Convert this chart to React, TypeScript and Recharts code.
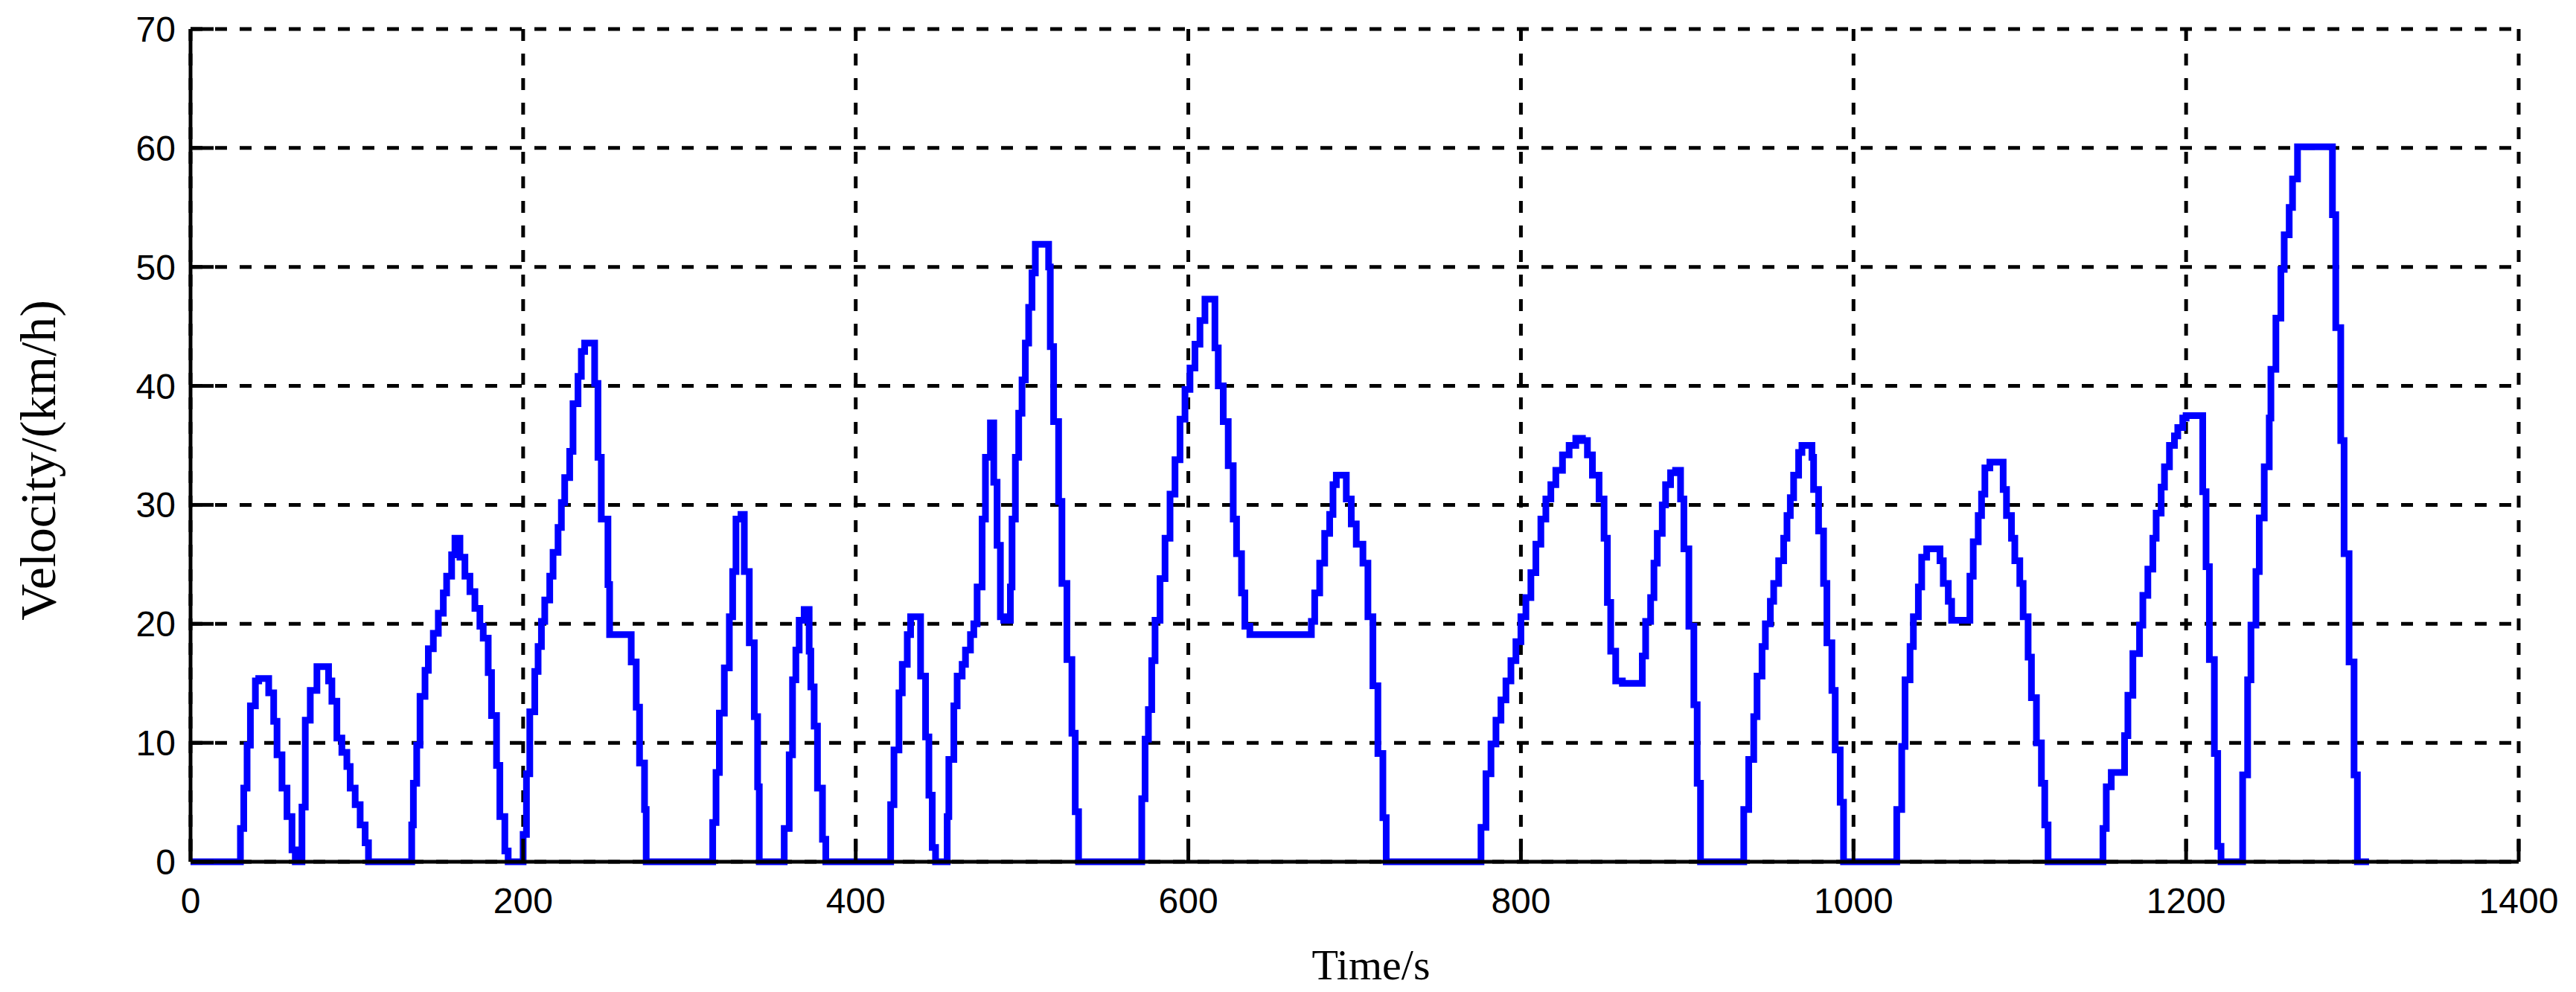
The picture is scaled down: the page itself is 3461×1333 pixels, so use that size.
import React from 'react';
import { LineChart, Line, XAxis, YAxis, CartesianGrid } from 'recharts';

// drive cycle (s, km/h)
const timeS = [
  0, 28, 30, 32, 34, 36, 39, 41, 46, 47, 50, 52, 55, 58, 61, 63,
  65, 67, 69, 72, 76, 82, 83, 85, 88, 91, 94, 96, 99, 102, 105, 107,
  132, 133, 134, 136, 138, 141, 143, 146, 149, 152, 154, 157, 159, 162, 165, 168, 171, 174, 176, 179, 181, 184, 186, 189, 191,
  199, 200, 202, 204, 207, 209, 211, 213, 216, 218, 221, 223, 225, 228, 230, 233, 235, 237, 241, 243, 245, 247, 251, 252, 263, 265, 268, 270, 273, 274,
  313, 314, 316, 318, 321, 324, 326, 328, 331, 333, 336, 339, 341, 342,
  356, 357, 360, 362, 364, 366, 369, 372, 373, 375, 377, 380, 382,
  420, 421, 423, 426, 428, 431, 433, 438, 439, 442, 444, 446, 448,
  454, 455, 456, 459, 461, 464, 466, 469, 471, 473, 476, 478, 481, 483, 485, 487, 489, 492, 493, 494, 496, 498, 500, 502, 504, 506, 508, 514, 516, 517, 519, 522, 524, 527, 530, 532, 534,
  571, 572, 574, 576, 578, 580, 583, 586, 589, 592, 595, 598, 601, 604, 607, 610, 614, 616, 618, 621, 624, 627, 629, 632, 634, 637, 673, 674, 676, 679, 682, 685, 687, 689, 694, 695, 698, 701, 705, 708, 711, 714, 717, 719,
  775, 776, 779, 782, 785, 788, 791, 794, 797, 800, 803, 806, 809, 812, 815, 818, 821, 825, 829, 833, 837, 840, 843, 847, 850, 852, 854, 857, 861, 871, 873, 875, 878, 880, 882, 885, 887, 890, 893, 896, 898, 901, 904, 906, 908,
  933, 934, 937, 940, 942, 945, 947, 950, 952, 955, 958, 960, 962, 964, 967, 969, 974, 975, 976, 979, 982, 984, 987, 989, 992, 994,
  1025, 1026, 1029, 1031, 1034, 1036, 1039, 1041, 1044, 1051, 1052, 1054, 1057, 1059, 1068, 1070, 1072, 1075, 1077, 1079, 1082, 1089, 1090, 1092, 1095, 1097, 1100, 1102, 1105, 1107, 1110, 1113, 1115, 1117,
  1149, 1150, 1152, 1155, 1162, 1163, 1165, 1168, 1172, 1174, 1177, 1180, 1182, 1185, 1187, 1190, 1193, 1195, 1198, 1200, 1209, 1210, 1212, 1214, 1217, 1219, 1221,
  1233, 1234, 1237, 1239, 1242, 1244, 1247, 1250, 1251, 1254, 1257, 1259, 1262, 1264, 1267, 1287, 1288, 1290, 1293, 1295, 1298, 1301, 1303, 1310,
];

const velocityKmh = [
  0, 0, 2.8, 6.2, 9.8, 13.1, 15.2, 15.4, 15.4, 14.2, 11.8, 9.0, 6.2, 3.8, 1.0, 0,
  0, 4.6, 11.9, 14.4, 16.4, 16.4, 15.2, 13.5, 10.4, 9.2, 8.0, 6.2, 4.8, 3.1, 1.6, 0,
  0, 3.1, 6.6, 9.8, 13.9, 16.1, 17.9, 19.2, 20.9, 22.6, 24.0, 25.8, 27.2, 25.6, 24.0, 22.7, 21.3, 19.8, 18.8, 15.9, 12.3, 8.1, 3.8, 0.9, 0,
  0, 2.3, 7.4, 12.6, 16.0, 18.1, 20.2, 22.0, 24.0, 26.0, 28.1, 30.2, 32.3, 34.5, 38.5, 40.8, 42.9, 43.6, 43.6, 40.2, 34.0, 28.8, 23.3, 19.1, 19.1, 16.8, 13.0, 8.3, 4.4, 0,
  0, 3.3, 7.5, 12.5, 16.3, 20.6, 24.4, 28.8, 29.2, 24.4, 18.4, 12.2, 6.3, 0,
  0, 2.8, 9.0, 15.3, 17.8, 20.3, 21.2, 17.7, 14.7, 11.4, 6.2, 1.9, 0,
  0, 4.8, 9.4, 14.2, 16.6, 19.1, 20.6, 20.6, 15.6, 10.5, 5.6, 1.2, 0,
  0, 3.8, 8.6, 13.1, 15.6, 16.6, 17.8, 19.1, 20.0, 23.1, 28.8, 34.0, 36.9, 31.9, 26.6, 20.6, 20.3, 20.3, 23.1, 28.8, 34.0, 37.7, 40.5, 43.6, 46.6, 49.5, 51.9, 51.9, 50.0, 43.3, 37.0, 30.3, 23.4, 17.0, 10.8, 4.2, 0,
  0, 5.3, 10.3, 12.8, 16.9, 20.3, 23.8, 27.2, 30.9, 33.8, 37.2, 39.7, 41.5, 43.5, 45.5, 47.3, 47.3, 43.2, 40.0, 37.0, 33.3, 28.8, 25.9, 22.6, 19.8, 19.1, 19.1, 20.2, 22.6, 25.1, 27.6, 29.2, 31.7, 32.5, 32.5, 30.5, 28.4, 26.7, 25.1, 20.6, 14.8, 9.1, 3.7, 0,
  0, 2.9, 7.4, 9.9, 11.9, 13.6, 15.2, 16.9, 18.5, 20.6, 22.2, 24.3, 26.7, 28.8, 30.5, 31.7, 32.9, 34.2, 35.0, 35.6, 35.4, 34.2, 32.5, 30.5, 27.2, 21.8, 17.7, 15.2, 15.0, 15.0, 17.3, 20.2, 22.2, 25.1, 27.6, 30.0, 31.7, 32.7, 32.9, 30.5, 26.3, 19.8, 13.2, 6.6, 0,
  0, 4.4, 8.6, 12.2, 15.6, 18.1, 20.0, 21.9, 23.4, 25.3, 27.2, 29.1, 30.6, 32.5, 34.4, 35.0, 35.0, 34.0, 31.3, 27.8, 23.4, 18.4, 14.4, 9.4, 5.0, 0,
  0, 4.4, 9.7, 15.3, 18.1, 20.6, 23.1, 25.6, 26.3, 26.3, 25.3, 23.4, 21.9, 20.3, 20.3, 24.0, 26.9, 29.1, 30.9, 33.1, 33.6, 33.6, 31.3, 29.1, 27.2, 25.3, 23.4, 20.6, 17.2, 13.8, 10.0, 6.6, 3.1, 0,
  0, 2.8, 6.3, 7.5, 7.5, 10.6, 14.0, 17.5, 19.9, 22.4, 24.6, 27.2, 29.3, 31.5, 33.2, 35.0, 35.8, 36.5, 37.3, 37.5, 37.5, 31.1, 24.8, 17.0, 9.1, 1.3, 0,
  0, 7.3, 15.3, 19.9, 24.4, 28.9, 33.2, 37.3, 41.4, 45.7, 49.8, 52.7, 55.0, 57.4, 60.1, 60.1, 54.4, 44.9, 35.4, 25.9, 16.8, 7.3, 0, 0,
];

const xTicks = [0, 200, 400, 600, 800, 1000, 1200, 1400];
const yTicks = [0, 10, 20, 30, 40, 50, 60, 70];

const chartData = timeS.map((t, i) => ({ t, v: velocityKmh[i] }));

const W = 3461;
const H = 1333;

const tickFont = { fontFamily: 'Liberation Sans, Arial, sans-serif', fontSize: 48, fill: '#000' };
const titleFont = 'Liberation Serif, Times New Roman, serif';

const YTitle = (props: any) => {
  const vb = props.viewBox || { y: 39, height: 1119 };
  const cy = vb.y + vb.height / 2 + 20;
  return (
    <text x={74} y={cy} transform={`rotate(-90 74 ${cy})`} textAnchor="middle"
      fontFamily={titleFont} fontSize={68} fill="#000">
      Velocity/(km/h)
    </text>
  );
};

const XTitle = (props: any) => {
  const vb = props.viewBox || { x: 256, width: 3128 };
  const cx = vb.x + vb.width / 2 + 22;
  return (
    <text x={cx} y={1316} textAnchor="middle" fontFamily={titleFont} fontSize={58} fill="#000">
      Time/s
    </text>
  );
};

export default function App() {
  return (
    <div style={{ position: 'absolute', left: 0, top: 0, width: W, height: H, background: '#fff' }}>
      <LineChart width={W} height={H} data={chartData} margin={{ top: 39, right: 77, bottom: 0, left: 0 }}>
        <CartesianGrid stroke="#000" strokeWidth={5} strokeDasharray="16 17" />
        <XAxis
          dataKey="t"
          type="number"
          domain={[0, 1400]}
          ticks={xTicks}
          interval={0}
          height={175}
          axisLine={{ stroke: '#000', strokeWidth: 5 }}
          tickLine={{ stroke: '#000', strokeWidth: 5 }}
          tickSize={-31}
          tickMargin={66}
          tick={tickFont}
          label={<XTitle />}
        />
        <YAxis
          type="number"
          domain={[0, 70]}
          ticks={yTicks}
          interval={0}
          width={256}
          axisLine={{ stroke: '#000', strokeWidth: 5 }}
          tickLine={{ stroke: '#000', strokeWidth: 5 }}
          tickSize={-31}
          tickMargin={51}
          tick={tickFont}
          label={<YTitle />}
        />
        <Line
          type="stepAfter"
          dataKey="v"
          stroke="#0000ff"
          strokeWidth={9}
          dot={false}
          isAnimationActive={false}
        />
      </LineChart>
    </div>
  );
}
